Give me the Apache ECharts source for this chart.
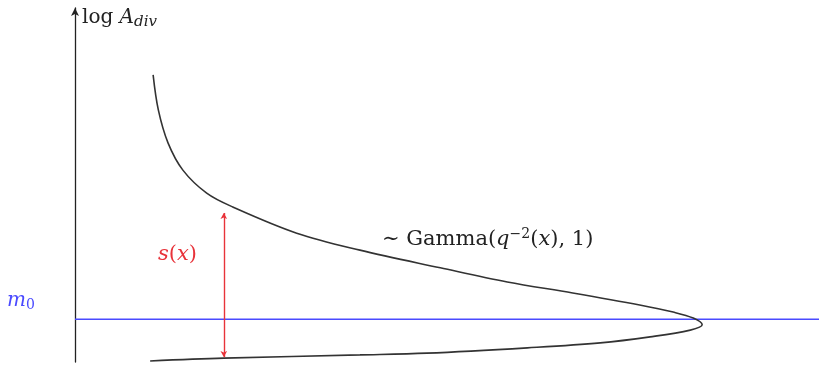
<!DOCTYPE html>
<html>
<head>
<meta charset="utf-8">
<script src="https://cdn.jsdelivr.net/npm/echarts@6/dist/echarts.min.js"></script>
<style>
  html, body { margin: 0; padding: 0; background: #fff; }
  #chart { width: 819px; height: 367px; }
</style>
</head>
<body>
<div id="chart"></div>
<script>
  // density curve drawn sideways: [horizontal, log A_div]
  var curveX = [1.05, 1.12, 1.25, 1.45, 1.77, 2.12, 2.98, 3.83, 4.91, 5.81, 6.69, 7.59, 8.04, 8.31, 8.43, 8.27, 7.73, 7.06, 6.08, 4.73, 3.83, 2.0, 1.01]
  var curveY = [8.11, 7.12, 6.19, 5.42, 4.77, 4.38, 3.64, 3.16, 2.66, 2.26, 1.95, 1.61, 1.41, 1.24, 1.05, 0.90, 0.71, 0.54, 0.40, 0.25, 0.20, 0.11, 0.03]
  var m0 = 1.21
  var sAt = 2.0
  var sRange = [0.14, 4.21]

  var curve = curveX.map(function (v, i) {
    return [v, curveY[i]]
  })

  var chart = echarts.init(document.getElementById('chart'))
  var serif = '"DejaVu Serif", "Liberation Serif", serif'
  var ink = '#222'
  var blue = '#4a4aff'
  var red = '#e8333a'

  chart.setOption({
    animation: false,
    grid: { left: 75, right: 0, top: 8, bottom: 5 },
    xAxis: {
      type: 'value',
      min: 0,
      max: 10,
      show: false,
    },
    yAxis: {
      type: 'value',
      min: 0,
      max: 10,
      axisLine: {
        show: true,
        symbol: ['none', 'arrow'],
        symbolSize: [6, 8],
        lineStyle: { color: ink, width: 1.3 },
      },
      axisTick: { show: false },
      axisLabel: { show: false },
      splitLine: { show: false },
    },
    series: [
      {
        name: 'm0',
        type: 'line',
        data: [[0, m0], [10, m0]],
        symbol: 'none',
        lineStyle: { color: blue, width: 1.5 },
      },
      {
        name: 'density',
        type: 'line',
        data: curve,
        smooth: 0.35,
        symbol: 'none',
        lineStyle: { color: '#333', width: 1.6 },
        markLine: {
          silent: true,
          symbol: ['arrow', 'arrow'],
          symbolSize: [5, 6],
          label: { show: false },
          lineStyle: { color: red, width: 1.4, type: 'solid' },
          data: [[{ coord: [sAt, sRange[0]] }, { coord: [sAt, sRange[1]] }]],
        },
      },
    ],
    graphic: [
      {
        type: 'text',
        left: 82,
        top: 8,
        style: {
          text: '{t|log }{i|A}{sub|div}',
          rich: {
            t: { fontFamily: serif, fontSize: 20, fill: ink },
            i: { fontFamily: serif, fontSize: 20, fontStyle: 'italic', fill: ink },
            sub: { fontFamily: serif, fontSize: 15, fontStyle: 'italic', fill: ink, padding: [8, 0, 0, 0] },
          },
        },
      },
      {
        type: 'text',
        left: 7,
        top: 291,
        style: {
          text: '{i|m}{sub|0}',
          rich: {
            i: { fontFamily: serif, fontSize: 20, fontStyle: 'italic', fill: blue },
            sub: { fontFamily: serif, fontSize: 14, fill: blue, padding: [8, 0, 0, 0] },
          },
        },
      },
      {
        type: 'text',
        left: 158,
        top: 244,
        style: {
          text: '{i|s}{t|(}{i|x}{t|)}',
          rich: {
            t: { fontFamily: serif, fontSize: 21, fill: red },
            i: { fontFamily: serif, fontSize: 21, fontStyle: 'italic', fill: red },
          },
        },
      },
      {
        type: 'text',
        left: 382,
        top: 227,
        style: {
          text: '{t|∼ Gamma(}{i|q}{sup|−2}{t|(}{i|x}{t|), 1)}',
          rich: {
            t: { fontFamily: serif, fontSize: 21, fill: ink },
            i: { fontFamily: serif, fontSize: 21, fontStyle: 'italic', fill: ink },
            sup: { fontFamily: serif, fontSize: 14, fill: ink, padding: [0, 0, 11, 0] },
          },
        },
      },
    ],
  })
</script>
</body>
</html>
